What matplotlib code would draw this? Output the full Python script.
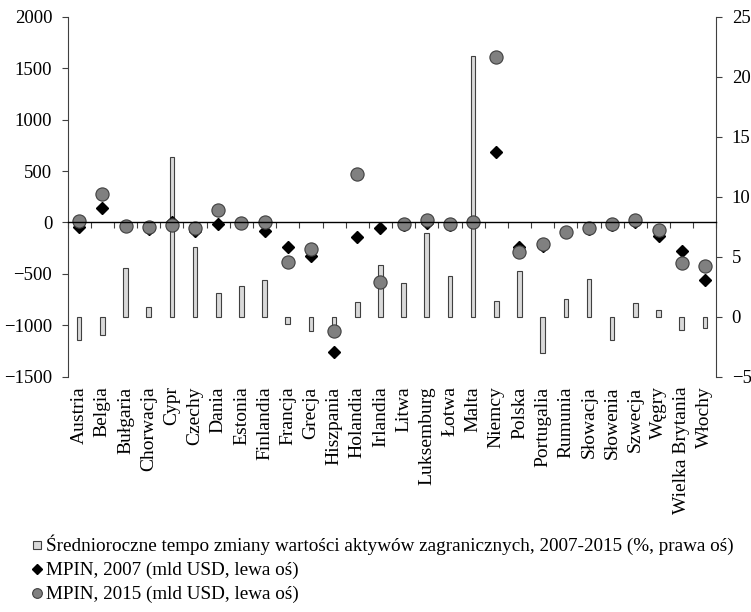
import numpy as np
import matplotlib.pyplot as plt
from matplotlib.lines import Line2D

plt.rcParams['font.family'] = ['Liberation Serif', 'DejaVu Serif']

countries = ["Austria", "Belgia", "Bułgaria", "Chorwacja", "Cypr", "Czechy", "Dania",
             "Estonia", "Finlandia", "Francja", "Grecja", "Hiszpania", "Holandia",
             "Irlandia", "Litwa", "Luksemburg", "Łotwa", "Malta", "Niemcy", "Polska",
             "Portugalia", "Rumunia", "Słowacja", "Słowenia", "Szwecja", "Węgry",
             "Wielka Brytania", "Włochy"]

# average yearly growth of foreign assets 2007-2015 (%, right axis)
growth = [-1.9, -1.5, 4.1, 0.8, 13.3, 5.8, 2.0, 2.6, 3.1, -0.6, -1.2, -0.8, 1.25,
          4.35, 2.8, 6.95, 3.4, 21.7, 1.35, 3.85, -3.05, 1.5, 3.15, -1.95, 1.15,
          0.6, -1.1, -0.9]
# MPIN 2007 (bn USD, left axis)
mpin07 = [-42, 137, -30, -67, 7, -80, -19, -10, -80, -242, -327, -1261, -139, -57,
          -20, -9, -20, 0, 687, -242, -230, -95, -60, -20, 4, -133, -275, -564]
# MPIN 2015 (bn USD, left axis)
mpin15 = [10, 273, -32, -42, -25, -54, 120, -3, 7, -388, -256, -1055, 470, -577,
          -16, 23, -16, 7, 1607, -291, -213, -90, -57, -16, 20, -71, -398, -421]

lab_bar = "Średnioroczne tempo zmiany wartości aktywów zagranicznych, 2007-2015 (%, prawa oś)"
lab_07 = "MPIN, 2007 (mld USD, lewa oś)"
lab_15 = "MPIN, 2015 (mld USD, lewa oś)"

x = np.arange(len(countries))

fig = plt.figure(figsize=(7.51, 6.12), dpi=100)
axr = fig.add_axes([0.090, 0.3845, 0.864, 0.588])
axl = axr.twinx()

# bars on right scale
axr.bar(x, growth, width=0.2, color='#d9d9d9', edgecolor='#404040', linewidth=0.8)
axr.set_ylim(-5, 25)
axr.set_yticks(range(-5, 26, 5))
axr.yaxis.tick_right()
axr.set_xlim(-0.5, len(countries) - 0.5)

# markers on left scale
axl.plot(x, mpin07, linestyle='none', marker='D', markersize=6.5, color='black')
axl.plot(x, mpin15, linestyle='none', marker='o', markersize=9.5,
         markerfacecolor='#808080', markeredgecolor='#404040', markeredgewidth=0.8)
axl.set_ylim(-1500, 2000)
axl.set_yticks(range(-1500, 2001, 500))
axl.yaxis.tick_left()
axl.yaxis.set_label_position('left')

# x ticks: labels on the right-axis axes, marks on the zero line
axr.set_xticks(x)
axr.set_xticklabels(countries, rotation=90)
axr.set_xticks(np.arange(-0.5, len(countries), 1), minor=True)
axr.tick_params(axis='x', which='both', length=0, labelsize=14, pad=7)
axl.xaxis.set_visible(True)
axl.tick_params(axis='x', which='major', length=0, labelbottom=False)
axl.tick_params(axis='x', which='minor', length=4, direction='out', width=0.8, color='#404040')

for a in (axr, axl):
    a.tick_params(axis='y', length=4, width=0.8, color='#404040', labelsize=13.5, pad=7)
    a.spines['top'].set_visible(False)
    for s in a.spines.values():
        s.set_color('#404040')
        s.set_linewidth(0.8)

axr.spines['left'].set_visible(False)
axr.spines['bottom'].set_visible(False)
axl.spines['right'].set_visible(False)
axl.spines['bottom'].set_position(('data', 0))
axl.spines['bottom'].set_color('black')
axl.spines['bottom'].set_linewidth(1.0)
axr.spines['right'].set_color('#404040')

handles = [
    Line2D([], [], linestyle='none', marker='s', markersize=6,
           markerfacecolor='#d9d9d9', markeredgecolor='#404040', markeredgewidth=0.8),
    Line2D([], [], linestyle='none', marker='D', markersize=5.5, color='black'),
    Line2D([], [], linestyle='none', marker='o', markersize=7,
           markerfacecolor='#808080', markeredgecolor='#404040', markeredgewidth=0.8),
]
fig.legend(handles, [lab_bar, lab_07, lab_15], loc='upper left',
           bbox_to_anchor=(0.043, 0.127), frameon=False, fontsize=13.8,
           handlelength=0.45, handleheight=0.45, handletextpad=0.25,
           labelspacing=0.36, borderpad=0, borderaxespad=0)

plt.savefig('out.png', dpi=100)
